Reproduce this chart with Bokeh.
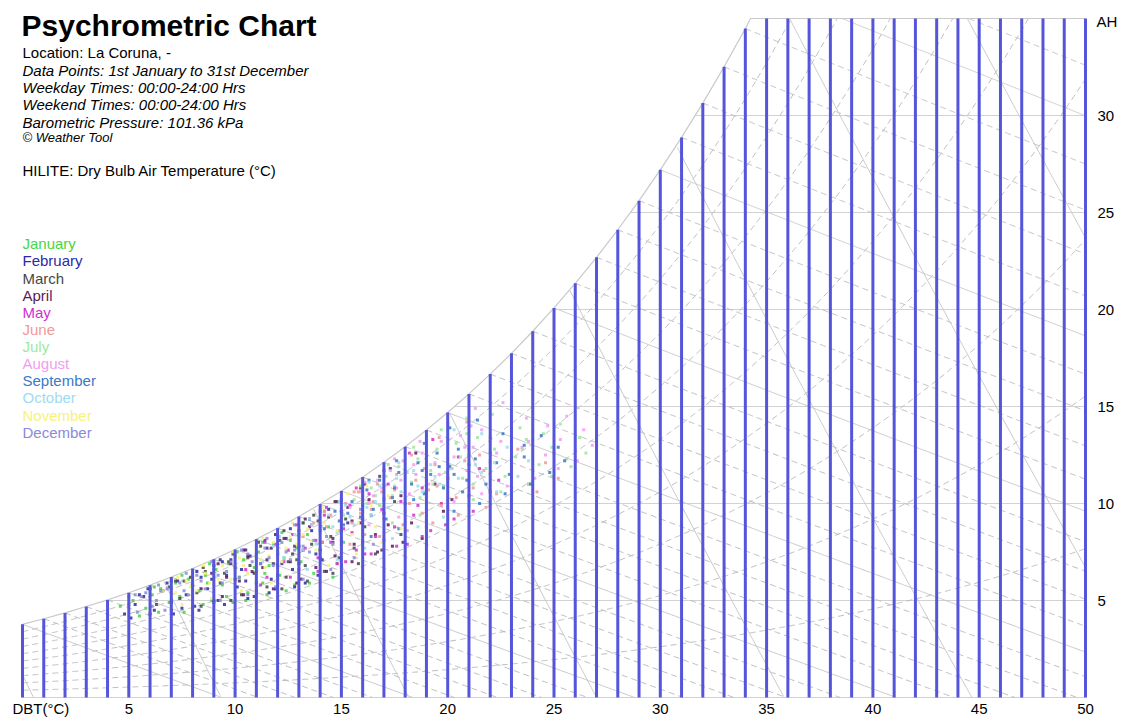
import numpy as np
from bokeh.plotting import figure
from bokeh.models import Label, Range1d, ColumnDataSource
from bokeh.embed import file_html
from bokeh.resources import INLINE

# ---------------- data ----------------
P_KPA = 101.36
DBT_C = list(range(0, 51))
# saturation absolute humidity (g/kg) at each integer DBT
SAT_AH = [3.77, 4.06, 4.36, 4.69, 5.03, 5.40, 5.79, 6.21, 6.65, 7.13,
          7.63, 8.16, 8.73, 9.33, 9.97, 10.65, 11.36, 12.13, 12.93, 13.79,
          14.69, 15.65, 16.67, 17.74, 18.88, 20.08, 21.35, 22.69, 24.11, 25.61,
          27.20, 28.87, 30.64, 32.51, 34.48, 36.57, 38.77, 41.09, 43.55, 46.14,
          48.87, 51.76, 54.81, 58.03, 61.43, 65.03, 68.82, 72.84, 77.08, 81.57, 86.31]
AH_MAX = 35
DBT_MAX = 50
AH_TICKS = [5, 10, 15, 20, 25, 30]
AH_GRID = [0, 5, 10, 15, 20, 25, 30]
DBT_TICKS = [5, 10, 15, 20, 25, 30, 35, 40, 45, 50]
RH_LEVELS = [10, 20, 30, 40, 50, 60, 70, 80, 90]
WB_LEVELS = list(range(0, 37))
SV_LEVELS = [0.775, 0.800, 0.825, 0.850, 0.875, 0.900, 0.925, 0.950]

MONTHS = ["January", "February", "March", "April", "May", "June", "July",
          "August", "September", "October", "November", "December"]
MONTH_COLORS = ["#45d645", "#2a2aa8", "#474747", "#5c1a5c", "#d22ed2", "#f09a9a",
                "#9ee89e", "#f29cf2", "#3a78c8", "#9edcf0", "#f6f27a", "#8a8ad8"]

JAN_PTS = [(4.6, 4.7), (5.2, 5.0), (5.8, 4.6), (6.1, 5.3), (6.5, 5.6), (6.9, 4.9), (7.2, 5.9), (7.4, 5.2),
           (7.8, 6.1), (8.0, 4.6), (8.3, 5.5), (8.6, 6.3), (8.9, 5.0), (9.1, 6.6), (9.4, 5.8), (9.7, 6.9),
           (9.9, 4.9), (10.2, 6.2), (10.4, 7.1), (10.6, 5.4), (10.9, 6.7), (11.1, 7.5), (11.3, 5.9), (11.6, 6.8),
           (11.8, 7.9), (12.1, 6.3), (12.3, 7.2), (12.6, 8.1), (12.8, 5.8), (13.1, 7.0), (13.4, 8.4), (13.7, 6.4),
           (14.0, 7.6), (14.4, 8.8), (14.8, 6.9), (7.0, 5.6), (8.7, 5.9), (10.0, 7.3), (11.4, 6.4), (12.9, 7.7),
           (5.5, 4.2), (6.4, 4.4), (7.6, 4.4), (8.5, 4.8), (9.6, 5.2), (10.5, 5.0), (11.5, 5.3), (12.4, 5.5),
           (13.5, 5.9), (14.6, 6.2), (5.0, 5.2), (6.2, 5.7), (7.5, 6.3), (8.8, 6.9), (10.1, 7.5), (11.3, 8.0),
           (12.2, 8.5), (13.2, 9.0), (14.2, 9.6), (15.1, 8.0)]
FEB_PTS = [(4.8, 4.3), (5.3, 4.8), (5.7, 5.2), (6.2, 4.5), (6.6, 5.5), (7.0, 4.9), (7.3, 6.0), (7.7, 5.3),
           (8.1, 4.7), (8.4, 6.2), (8.7, 5.6), (9.0, 6.8), (9.2, 5.0), (9.6, 6.3), (9.8, 7.1), (10.1, 5.7),
           (10.3, 6.6), (10.7, 7.3), (10.9, 5.2), (11.2, 6.9), (11.5, 7.7), (11.7, 6.1), (12.0, 7.4), (12.4, 8.2),
           (12.7, 6.6), (13.0, 7.8), (13.3, 5.9), (13.6, 8.6), (14.1, 7.1), (14.6, 8.0), (6.0, 5.6), (7.5, 4.6),
           (8.9, 6.1), (10.5, 6.0), (11.9, 5.6), (6.8, 5.9), (9.4, 7.0), (12.2, 6.9), (5.5, 5.3), (13.8, 7.4),
           (5.1, 4.1), (6.0, 4.3), (7.1, 4.3), (8.3, 4.5), (9.5, 4.8), (10.6, 5.1), (11.6, 5.4), (12.8, 5.7),
           (13.9, 6.3), (15.0, 6.8), (5.9, 5.6), (7.0, 6.0), (8.2, 6.5), (9.3, 7.1), (10.4, 7.6), (11.4, 8.1),
           (12.6, 8.7), (13.5, 9.2), (14.4, 9.7), (15.3, 9.0)]
MAR_PTS = [(6.3, 4.8), (6.9, 5.7), (7.4, 5.1), (7.9, 6.2), (8.2, 5.4), (8.6, 6.5), (9.0, 4.9), (9.3, 5.9),
           (9.7, 7.0), (10.0, 6.1), (10.3, 5.3), (10.6, 7.2), (10.9, 6.4), (11.2, 7.8), (11.5, 5.7), (11.8, 6.9),
           (12.1, 8.1), (12.4, 6.2), (12.7, 7.4), (13.0, 8.6), (13.3, 6.8), (13.6, 7.9), (13.9, 9.1), (14.2, 6.5),
           (14.5, 8.3), (14.9, 7.2), (15.2, 9.2), (15.6, 7.7), (16.1, 8.8), (16.6, 7.4), (8.0, 5.8), (9.5, 6.4),
           (11.0, 5.9), (12.5, 7.0), (14.0, 7.6), (10.7, 6.8), (12.9, 7.1), (15.0, 8.1), (7.6, 6.0), (13.2, 9.0),
           (7.0, 4.5), (8.4, 4.7), (9.8, 5.0), (11.0, 5.3), (12.2, 5.6), (13.4, 6.0), (14.6, 6.4), (15.8, 6.9),
           (16.9, 7.6), (17.8, 8.4), (7.2, 6.0), (8.5, 6.7), (9.9, 7.4), (11.1, 8.0), (12.3, 8.6), (13.7, 9.4),
           (14.8, 10.1), (15.9, 10.8), (16.8, 11.4), (17.5, 10.1)]
APR_PTS = [(8.4, 5.6), (8.9, 6.4), (9.4, 5.2), (9.8, 6.9), (10.2, 6.0), (10.6, 7.3), (11.0, 5.5), (11.3, 6.7),
           (11.7, 7.7), (12.0, 6.3), (12.3, 8.2), (12.6, 7.0), (12.9, 5.9), (13.2, 7.6), (13.5, 8.8), (13.8, 6.7),
           (14.1, 8.0), (14.4, 9.3), (14.7, 7.3), (15.0, 8.6), (15.3, 9.8), (15.6, 7.9), (15.9, 9.0), (16.3, 10.2),
           (16.6, 8.4), (17.0, 9.5), (17.4, 7.8), (17.8, 10.4), (18.3, 9.0), (18.8, 8.2), (10.8, 6.5), (12.8, 7.8),
           (14.6, 8.2), (16.0, 8.0), (13.0, 6.9), (11.5, 7.1), (15.5, 9.1), (17.2, 8.9), (9.6, 6.2), (14.0, 7.2),
           (9.0, 5.0), (10.4, 5.3), (11.8, 5.6), (13.1, 6.1), (14.3, 6.5), (15.5, 7.0), (16.7, 7.5), (17.9, 8.0),
           (19.0, 8.8), (19.8, 9.6), (9.2, 6.9), (10.5, 7.6), (11.9, 8.4), (13.3, 9.2), (14.7, 10.1), (16.1, 11.0),
           (17.3, 11.8), (18.5, 12.6), (19.4, 11.0), (20.2, 10.2)]
MAY_PTS = [(10.5, 6.6), (11.0, 7.4), (11.5, 6.2), (11.9, 7.9), (12.3, 7.0), (12.7, 8.4), (13.0, 6.6), (13.3, 7.7),
           (13.6, 8.9), (13.9, 7.2), (14.2, 9.4), (14.5, 8.0), (14.8, 6.9), (15.1, 8.7), (15.4, 9.9), (15.7, 7.6),
           (16.0, 9.2), (16.3, 10.5), (16.6, 8.3), (16.9, 9.7), (17.2, 11.0), (17.5, 8.8), (17.8, 10.1), (18.1, 7.9),
           (18.4, 9.4), (18.8, 10.8), (19.2, 8.6), (19.7, 10.0), (20.3, 9.2), (21.0, 10.4), (12.0, 6.8), (13.8, 8.1),
           (15.5, 8.5), (17.0, 8.1), (14.0, 8.6), (16.1, 7.4), (18.6, 9.9), (12.5, 7.6), (15.0, 9.6), (20.0, 11.3),
           (11.2, 5.8), (12.6, 6.2), (13.9, 6.5), (15.2, 7.0), (16.4, 7.4), (17.6, 7.8), (18.8, 8.3), (19.9, 8.9),
           (21.2, 9.6), (22.0, 10.6), (11.4, 8.0), (12.9, 8.9), (14.3, 9.8), (15.7, 10.8), (17.0, 11.7), (18.2, 12.6),
           (19.3, 13.3), (20.5, 12.4), (21.5, 11.8), (22.4, 11.2)]
JUN_PTS = [(13.2, 8.3), (13.7, 9.0), (14.1, 8.0), (14.5, 9.4), (14.9, 8.6), (15.2, 10.0), (15.5, 9.0), (15.8, 10.6),
           (16.1, 8.4), (16.4, 9.7), (16.7, 11.0), (17.0, 9.2), (17.3, 10.3), (17.6, 11.5), (17.9, 8.9), (18.2, 10.0),
           (18.5, 11.2), (18.8, 9.5), (19.1, 10.7), (19.4, 12.0), (19.7, 9.9), (20.0, 11.3), (20.4, 10.3), (20.8, 12.2),
           (21.2, 10.8), (21.7, 11.7), (22.3, 10.5), (23.0, 11.6), (23.8, 11.0), (24.6, 12.1), (15.0, 9.2), (16.5, 10.1),
           (18.0, 9.6), (19.5, 10.9), (17.5, 10.7), (15.9, 9.5), (14.3, 8.8), (21.5, 12.5), (18.9, 11.8), (16.9, 10.6),
           (14.0, 7.4), (15.4, 7.9), (16.8, 8.3), (18.1, 8.6), (19.3, 9.0), (20.5, 9.4), (21.8, 9.8), (23.0, 10.2),
           (24.2, 10.6), (25.2, 11.3), (14.2, 9.6), (15.6, 10.6), (17.0, 11.7), (18.3, 12.5), (19.6, 13.4), (20.9, 14.2),
           (22.0, 13.4), (23.3, 12.8), (24.0, 13.3), (25.0, 12.6)]
JUL_PTS = [(15.1, 9.4), (15.6, 10.2), (16.0, 9.6), (16.4, 10.8), (16.8, 9.9), (17.1, 11.4), (17.4, 10.4), (17.7, 11.9),
           (18.0, 10.0), (18.3, 11.1), (18.6, 12.3), (18.9, 10.6), (19.2, 11.7), (19.5, 12.8), (19.8, 10.9), (20.1, 12.0),
           (20.4, 13.1), (20.7, 11.3), (21.0, 12.5), (21.4, 13.4), (21.8, 11.8), (22.2, 12.8), (22.7, 11.4), (23.2, 12.4),
           (23.7, 13.3), (24.3, 12.0), (24.9, 12.9), (25.6, 12.3), (16.6, 10.4), (18.1, 11.6), (19.3, 11.0), (20.6, 12.4),
           (22.0, 12.1), (17.5, 10.9), (19.9, 11.6), (21.2, 11.0), (23.5, 12.8), (18.7, 10.3), (16.2, 10.0), (20.9, 13.6),
           (16.0, 8.6), (17.4, 9.0), (18.7, 9.4), (20.0, 9.8), (21.2, 10.2), (22.5, 10.6), (23.8, 11.0), (24.9, 11.4),
           (25.8, 11.9), (26.5, 12.6), (15.9, 10.9), (17.2, 12.0), (18.4, 12.9), (19.7, 13.8), (20.9, 14.4), (22.1, 14.6),
           (23.4, 13.9), (24.5, 13.6), (25.3, 14.1), (26.2, 13.4)]
AUG_PTS = [(15.4, 9.8), (15.9, 10.6), (16.3, 10.0), (16.7, 11.2), (17.0, 10.3), (17.3, 11.7), (17.6, 10.8), (17.9, 12.2),
           (18.2, 10.5), (18.5, 11.5), (18.8, 12.6), (19.1, 11.0), (19.4, 12.1), (19.7, 13.2), (20.0, 11.3), (20.3, 12.4),
           (20.6, 13.5), (20.9, 11.7), (21.2, 12.9), (21.6, 13.8), (22.0, 12.2), (22.5, 13.2), (23.0, 11.9), (23.5, 12.9),
           (24.0, 13.7), (24.6, 12.5), (25.3, 13.3), (26.0, 12.7), (16.9, 10.8), (18.4, 12.0), (19.6, 11.5), (20.8, 12.9),
           (22.3, 12.6), (17.8, 11.2), (20.2, 11.8), (21.4, 11.4), (23.8, 13.2), (19.0, 10.7), (16.5, 10.4), (21.1, 14.0),
           (16.3, 8.9), (17.7, 9.3), (19.0, 9.7), (20.3, 10.1), (21.6, 10.5), (22.8, 10.9), (24.1, 11.3), (25.2, 11.8),
           (26.1, 12.2), (26.8, 13.0), (16.1, 11.1), (17.5, 12.3), (18.7, 13.2), (20.0, 14.1), (21.3, 14.9), (22.6, 15.2),
           (23.7, 14.4), (24.7, 14.0), (25.6, 14.5), (26.4, 13.8)]
SEP_PTS = [(14.2, 8.7), (14.7, 9.6), (15.1, 8.9), (15.5, 10.1), (15.9, 9.3), (16.2, 10.7), (16.5, 9.7), (16.8, 11.2),
           (17.1, 9.2), (17.4, 10.3), (17.7, 11.6), (18.0, 10.0), (18.3, 11.0), (18.6, 12.1), (18.9, 10.5), (19.2, 11.5),
           (19.5, 12.6), (19.8, 10.8), (20.1, 11.9), (20.5, 12.8), (20.9, 11.2), (21.3, 12.3), (21.8, 11.0), (22.3, 12.1),
           (22.9, 11.5), (23.6, 12.4), (16.0, 9.9), (17.5, 10.8), (19.0, 11.2), (20.3, 11.5), (15.3, 9.5), (18.4, 10.2),
           (21.0, 12.0), (17.0, 10.2), (19.6, 11.9), (14.9, 9.1), (22.0, 12.6), (16.4, 9.4), (18.8, 11.7), (20.7, 10.6),
           (15.0, 7.9), (16.4, 8.3), (17.7, 8.7), (19.0, 9.1), (20.3, 9.6), (21.5, 10.0), (22.7, 10.5), (23.9, 11.0),
           (24.8, 11.6), (25.5, 12.2), (15.0, 10.2), (16.3, 11.2), (17.6, 12.2), (18.9, 13.1), (20.1, 13.9), (21.4, 14.3),
           (22.6, 13.6), (23.6, 13.0), (24.4, 13.5), (25.2, 12.9)]
OCT_PTS = [(11.3, 7.0), (11.8, 7.8), (12.3, 7.2), (12.8, 8.4), (13.2, 7.6), (13.6, 8.9), (14.0, 8.0), (14.4, 9.4),
           (14.8, 8.5), (15.2, 9.9), (15.6, 8.9), (16.0, 10.4), (16.4, 9.4), (16.8, 10.9), (17.2, 9.8), (17.6, 11.3),
           (18.0, 10.2), (18.4, 11.7), (18.8, 10.6), (19.2, 12.0), (19.6, 11.0), (20.0, 12.3), (20.5, 11.3), (21.0, 12.4),
           (21.6, 11.6), (22.2, 12.1), (13.0, 8.2), (14.6, 8.8), (16.2, 9.8), (17.8, 10.6), (19.4, 11.4), (12.0, 7.5),
           (15.4, 9.3), (17.0, 10.2), (18.6, 10.9), (20.2, 11.8), (13.8, 7.9), (16.6, 10.1), (19.0, 11.6), (21.3, 12.0),
           (12.0, 6.1), (13.4, 6.6), (14.8, 7.1), (16.1, 7.7), (17.4, 8.2), (18.6, 8.8), (19.8, 9.3), (21.0, 9.9),
           (22.3, 10.6), (23.3, 11.4), (12.1, 8.3), (13.5, 9.2), (14.9, 10.1), (16.3, 11.1), (17.7, 12.1), (19.0, 13.0),
           (20.3, 13.8), (21.6, 13.6), (22.8, 12.9), (23.8, 12.2)]
NOV_PTS = [(7.2, 5.4), (7.7, 6.0), (8.2, 5.5), (8.6, 6.4), (9.0, 5.8), (9.4, 6.8), (9.8, 6.1), (10.2, 7.2),
           (10.6, 6.4), (11.0, 7.6), (11.4, 6.7), (11.8, 8.0), (12.2, 7.0), (12.6, 8.3), (13.0, 7.3), (13.4, 8.7),
           (13.8, 7.6), (14.2, 9.0), (14.6, 7.9), (15.0, 9.3), (15.5, 8.4), (16.0, 9.6), (16.6, 8.8), (8.8, 5.9),
           (10.4, 6.8), (12.0, 7.5), (13.6, 8.1), (11.2, 7.1), (9.6, 6.5), (14.8, 8.6), (12.9, 7.9), (15.8, 9.0),
           (10.0, 6.6), (13.2, 8.4), (11.6, 7.3), (7.9, 5.7), (14.0, 8.5), (16.4, 9.9), (9.2, 6.1), (12.4, 7.7),
           (7.5, 4.8), (8.9, 5.1), (10.3, 5.5), (11.7, 5.9), (13.0, 6.3), (14.4, 6.8), (15.7, 7.4), (16.9, 8.0),
           (17.8, 8.7), (7.3, 6.2), (8.5, 6.8), (9.9, 7.5), (11.3, 8.2), (12.7, 9.0), (14.1, 9.8), (15.3, 10.5),
           (16.2, 10.9), (17.2, 10.4), (18.0, 9.6), (6.6, 5.5)]
DEC_PTS = [(5.0, 4.8), (5.6, 5.2), (6.1, 4.7), (6.5, 5.5), (7.0, 5.0), (7.4, 5.9), (7.8, 5.3), (8.2, 6.3),
           (8.6, 5.6), (9.0, 6.6), (9.4, 5.9), (9.8, 7.0), (10.2, 6.2), (10.6, 7.4), (11.0, 6.5), (11.4, 7.7),
           (11.8, 6.8), (12.2, 8.0), (12.6, 7.1), (13.0, 8.4), (13.5, 7.5), (14.0, 8.8), (14.6, 7.9), (6.8, 5.6),
           (8.4, 6.0), (10.0, 6.7), (11.6, 7.2), (13.2, 7.8), (9.2, 6.3), (10.8, 7.0), (12.4, 7.5), (7.6, 5.5),
           (5.8, 5.4), (14.3, 8.3), (8.0, 5.8), (9.6, 6.5), (11.2, 6.9), (12.8, 7.6), (6.3, 5.0), (13.7, 8.1),
           (5.4, 4.4), (6.7, 4.5), (8.0, 4.7), (9.3, 5.0), (10.6, 5.3), (11.9, 5.7), (13.2, 6.1), (14.5, 6.6),
           (15.6, 7.2), (16.5, 7.9), (5.3, 5.3), (6.4, 5.8), (7.7, 6.4), (8.9, 7.0), (10.3, 7.6), (11.5, 8.2),
           (12.8, 8.9), (14.0, 9.6), (15.0, 10.2), (15.9, 9.7)]
MONTH_POINTS = [JAN_PTS, FEB_PTS, MAR_PTS, APR_PTS, MAY_PTS, JUN_PTS,
                JUL_PTS, AUG_PTS, SEP_PTS, OCT_PTS, NOV_PTS, DEC_PTS]

TITLE = "Psychrometric Chart"
INFO_LINES = [("Location: La Coruna, -", "normal", "15px"),
              ("Data Points: 1st January to 31st December", "italic", "15px"),
              ("Weekday Times: 00:00-24:00 Hrs", "italic", "15px"),
              ("Weekend Times: 00:00-24:00 Hrs", "italic", "15px"),
              ("Barometric Pressure: 101.36 kPa", "italic", "15px"),
              ("\u00a9 Weather Tool", "italic", "13px")]
HILITE = "HILITE: Dry Bulb Air Temperature (\u00b0C)"

# ---------------- layout (page pixels) ----------------
FONT = "Liberation Sans"
W_FIG, H_FIG = 1125, 717
X0_PX, X50_PX = 22, 1085     # page x of 0 C and 50 C
Y0_PX, Y35_PX = 697, 18      # page y of 0 and 35 g/kg
SX = (X50_PX - X0_PX) / DBT_MAX
SY = (Y0_PX - Y35_PX) / AH_MAX
XR = (-X0_PX / SX, DBT_MAX + (W_FIG - X50_PX) / SX)
YR = (-(H_FIG - Y0_PX) / SY, AH_MAX + Y35_PX / SY)


def dx(px):
    return XR[0] + px / SX


def dy(py):
    return YR[1] - py / SY


p = figure(width=W_FIG, height=H_FIG, x_range=Range1d(*XR), y_range=Range1d(*YR),
           output_backend="svg", toolbar_location=None,
           x_axis_type=None, y_axis_type=None,
           min_border_left=0, min_border_right=0, min_border_top=0, min_border_bottom=0)
p.outline_line_color = None
p.background_fill_color = "white"
p.border_fill_color = "white"

GRID_SOLID = "#c9c9c9"
GRID_DASH = "#bcbcbc"
DASH = "6 4"


def _edge(xo, yo, xi, yi):
    s = 1.0
    if yo > AH_MAX:
        s = min(s, (AH_MAX - yi) / (yo - yi))
    if yo < 0:
        s = min(s, (0 - yi) / (yo - yi))
    if xo > DBT_MAX:
        s = min(s, (DBT_MAX - xi) / (xo - xi))
    if xo < 0:
        s = min(s, (0 - xi) / (xo - xi))
    return xi + s * (xo - xi), yi + s * (yo - yi)


def clip(t, w):
    inside = (w >= 0) & (w <= AH_MAX) & (t >= 0) & (t <= DBT_MAX)
    idx = np.where(inside)[0]
    if len(idx) < 2:
        return None
    i0, i1 = idx[0], idx[-1]
    xs = t[i0:i1 + 1].tolist()
    ys = w[i0:i1 + 1].tolist()
    if i0 > 0:
        a, b = _edge(t[i0 - 1], w[i0 - 1], t[i0], w[i0])
        xs.insert(0, a); ys.insert(0, b)
    if i1 < len(t) - 1:
        a, b = _edge(t[i1 + 1], w[i1 + 1], t[i1], w[i1])
        xs.append(a); ys.append(b)
    return xs, ys


T_FINE = np.linspace(0, DBT_MAX, 1001)
SAT_FINE = np.interp(T_FINE, DBT_C, SAT_AH)
PS_FINE = P_KPA * SAT_FINE / (621.945 + SAT_FINE)

# horizontal AH grid lines from saturation curve to the right edge
hx0, hx1, hy = [], [], []
for lv in AH_GRID:
    x0 = float(np.interp(lv, SAT_AH, DBT_C)) if lv > SAT_AH[0] else 0.0
    hx0.append(x0); hx1.append(DBT_MAX); hy.append(lv)
p.segment(x0=hx0, y0=hy, x1=hx1, y1=hy, line_color="#d2d2d2", line_width=1)

# RH curves (dashed)
rh_xs, rh_ys = [], []
for rh in RH_LEVELS:
    f = rh / 100.0
    w = 621.945 * f * PS_FINE / (P_KPA - f * PS_FINE)
    c = clip(T_FINE, w)
    if c:
        rh_xs.append(c[0]); rh_ys.append(c[1])
p.multi_line(rh_xs, rh_ys, line_color=GRID_DASH, line_width=1, line_dash=DASH)

# wet bulb lines: dashed every 1 C, solid every 5 C
wb_d_xs, wb_d_ys, wb_s_xs, wb_s_ys = [], [], [], []
for twb in WB_LEVELS:
    ws = SAT_AH[twb]
    t = np.linspace(twb, DBT_MAX, 600)
    w = ((2501 - 2.326 * twb) * ws - 1006 * (t - twb)) / (2501 + 1.86 * t - 4.186 * twb)
    c = clip(t, w)
    if not c:
        continue
    if twb % 5 == 0:
        wb_s_xs.append(c[0]); wb_s_ys.append(c[1])
    else:
        wb_d_xs.append(c[0]); wb_d_ys.append(c[1])
p.multi_line(wb_d_xs, wb_d_ys, line_color=GRID_DASH, line_width=1, line_dash=DASH)
p.multi_line(wb_s_xs, wb_s_ys, line_color=GRID_SOLID, line_width=1)

# specific volume lines (solid)
sv_xs, sv_ys = [], []
cap = np.minimum(SAT_FINE, AH_MAX)
for v in SV_LEVELS:
    w = (v * P_KPA / (0.287042 * (T_FINE + 273.15)) - 1) / 1.607858 * 1000
    m = (w >= 0) & (w <= cap)
    if m.sum() > 1:
        sv_xs.append(T_FINE[m].tolist()); sv_ys.append(w[m].tolist())
p.multi_line(sv_xs, sv_ys, line_color=GRID_SOLID, line_width=1)

# saturation curve and top boundary
x_top = float(np.interp(AH_MAX, SAT_AH, DBT_C))
n_sat = int(np.floor(x_top)) + 1
sat_x = DBT_C[:n_sat] + [x_top, DBT_MAX]
sat_y = SAT_AH[:n_sat] + [AH_MAX, AH_MAX]
p.line(sat_x, sat_y, line_color=GRID_SOLID, line_width=1.2)

# monthly data points
for pts, col in zip(MONTH_POINTS, MONTH_COLORS):
    src = ColumnDataSource(dict(x=[q[0] for q in pts], y=[q[1] for q in pts]))
    p.scatter("x", "y", source=src, marker="square", size=3,
              fill_color=col, line_color=None, fill_alpha=0.85)

# highlighted DBT lines
tops = [min(s, AH_MAX) for s in SAT_AH]
p.segment(x0=DBT_C, y0=[0] * len(DBT_C), x1=DBT_C, y1=tops,
          line_color="#5555dc", line_width=3)


def add_label(x, y, text, size="15px", style="normal", color="#000000",
              align="left", baseline="middle"):
    p.add_layout(Label(x=x, y=y, text=text, text_font=FONT, text_font_size=size,
                       text_font_style=style, text_color=color, text_align=align,
                       text_baseline=baseline))


# title block
add_label(dx(21), dy(25), TITLE, size="30px", style="bold")
info_y = [52, 70, 87, 104, 122, 137]
for (txt, sty, sz), yy in zip(INFO_LINES, info_y):
    add_label(dx(22), dy(yy), txt, size=sz, style=sty)
add_label(dx(22), dy(170), HILITE)

# month legend
for i, (mname, col) in enumerate(zip(MONTHS, MONTH_COLORS)):
    add_label(dx(22), dy(243.3 + i * 17.13), mname, color=col)

# axis tick labels
add_label(dx(12), dy(708), "DBT(\u00b0C)")
for t in DBT_TICKS:
    add_label(t, dy(708), str(t), align="center")
for a in AH_TICKS:
    add_label(dx(1097), a, str(a))
add_label(dx(1096), dy(21), "AH")

open("out.html", "w").write(file_html(p, INLINE))
